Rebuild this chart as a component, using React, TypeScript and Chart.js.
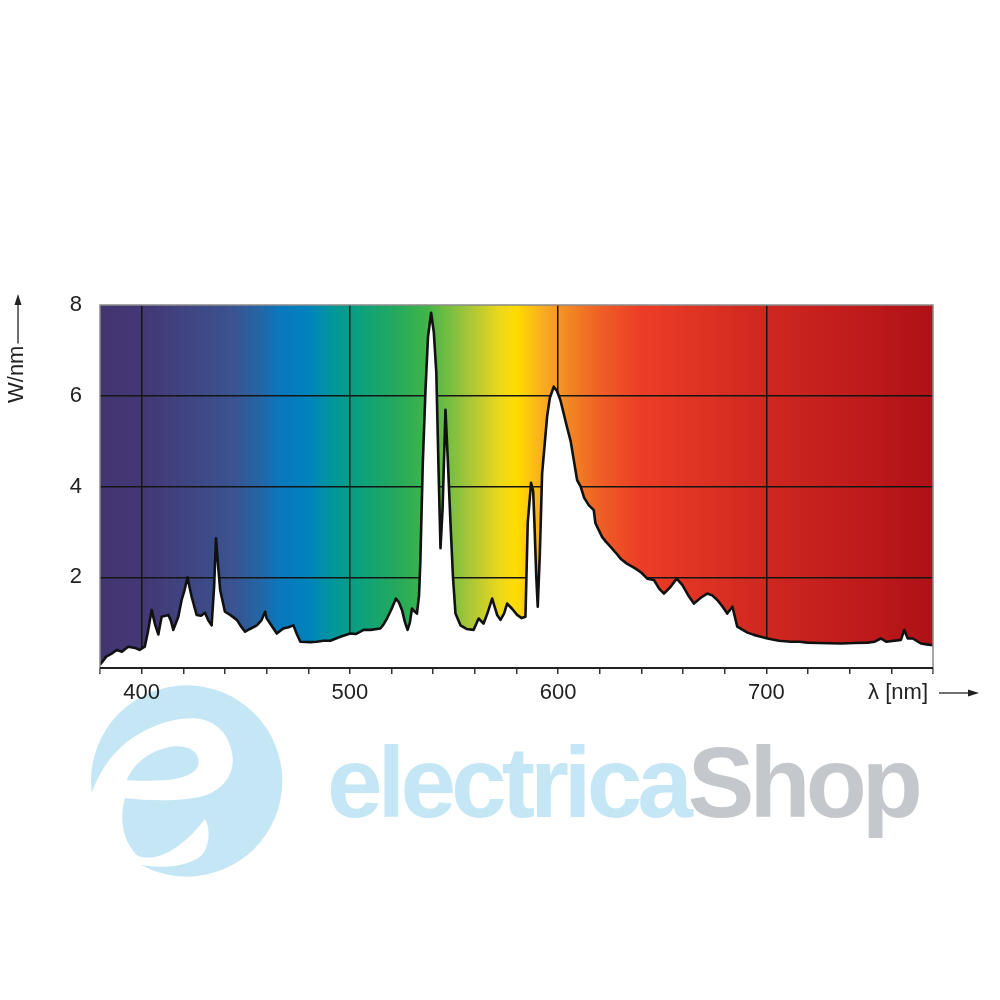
import React, { useEffect, useRef } from "react";
import { Chart, registerables } from "chart.js";
Chart.register(...registerables);

// ---------- data ----------
const wavelengths = [
  380, 383, 386, 388, 390.5, 393.5, 397, 399, 401.5, 403, 404.8, 406.5, 408, 409.6, 412.8, 414, 415.2, 417.6, 419.2,
  420.5, 422, 424, 426.4, 428.5, 430.4, 432, 433.6, 434.8, 435.7, 436.8, 437.7, 440, 442.5, 445.7, 448, 449.7, 452,
  455.3, 457.5, 459.3, 460, 461.7, 464.9, 468, 470.5, 472.9, 474.5, 476.2, 481, 484, 487.3, 490.6, 495.4, 500.2, 503,
  506.6, 510, 514.6, 516, 517.8, 520, 522.1, 523.5, 525, 526.5, 527.7, 528.8, 529.8, 531, 532.2, 533.2, 533.8, 535,
  536.3, 537.5, 539, 540.3, 541.5, 542.5, 543.5, 544.5, 545.9, 547, 548.3, 549.5, 550.7, 553.1, 556, 559.4, 561.8,
  564.2, 566, 568.3, 570.7, 572.3, 574, 575.5, 578, 580.3, 582.5, 584.3, 585.4, 587, 588, 588.6, 589.5, 590.2, 591.2,
  592.3, 594.7, 596, 597.9, 599.5, 601.1, 604.3, 606, 609.1, 610.8, 612.5, 614.7, 617.1, 617.9, 621.1, 623, 625.2,
  627.5, 630, 633, 637.2, 640, 642.8, 646, 648.5, 650.8, 654, 656.9, 659.6, 662.5, 665.2, 668.5, 671.6, 674, 676.4,
  679, 681.2, 683.7, 686, 690.9, 694, 697.3, 700.5, 706, 711.7, 716, 719.7, 725, 735.8, 742, 748.6, 752, 755, 757.5,
  764.6, 766.2, 767.9, 770.3, 774.2, 777, 780,
];
const power = [
  0.07, 0.25, 0.33, 0.4, 0.36, 0.47, 0.44, 0.4, 0.47, 0.8, 1.28, 0.95, 0.74, 1.13, 1.17, 1.05, 0.84, 1.13, 1.5,
  1.7, 2.0, 1.57, 1.17, 1.15, 1.22, 1.05, 0.94, 1.8, 2.86, 2.2, 1.72, 1.24, 1.17, 1.06, 0.9, 0.8, 0.86,
  0.94, 1.05, 1.24, 1.1, 0.98, 0.76, 0.87, 0.9, 0.94, 0.75, 0.58, 0.57, 0.58, 0.6, 0.6, 0.69, 0.76, 0.75,
  0.84, 0.84, 0.87, 0.95, 1.09, 1.3, 1.53, 1.45, 1.28, 1.0, 0.84, 1.0, 1.31, 1.25, 1.2, 1.6, 2.3, 4.5,
  6.13, 7.3, 7.83, 7.4, 6.5, 4.5, 2.64, 3.5, 5.69, 4.6, 3.19, 2.0, 1.2, 0.94, 0.86, 0.84, 1.09,
  0.98, 1.2, 1.53, 1.17, 1.06, 1.2, 1.42, 1.3, 1.17, 1.1, 1.13, 3.2, 4.08, 3.9, 3.2, 2.0, 1.35, 2.5,
  4.29, 5.54, 5.95, 6.2, 6.1, 5.9, 5.3, 5.0, 4.14, 4.0, 3.75, 3.59, 3.48, 3.19, 2.89, 2.78, 2.67,
  2.55, 2.41, 2.3, 2.19, 2.1, 1.97, 1.94, 1.75, 1.64, 1.79, 1.97, 1.83, 1.6, 1.42, 1.55, 1.64, 1.6, 1.5,
  1.35, 1.2, 1.35, 0.91, 0.78, 0.73, 0.69, 0.65, 0.6, 0.58, 0.58, 0.56, 0.55, 0.54, 0.55, 0.56, 0.58, 0.65, 0.58,
  0.62, 0.84, 0.65, 0.65, 0.54, 0.52, 0.5,
];
const xTickLabels = [400, 500, 600, 700];
const yTickLabels = [2, 4, 6, 8];
const yGridValues = [2, 4, 6];
const yTitle = "W/nm";
const xTitle = "λ [nm]";
const watermarkBlue = "electrica";
const watermarkGray = "Shop";

// ---------- style ----------
const FONT = "'Liberation Sans', Arial, Helvetica, sans-serif";
const spectrumStops: [number, string][] = [
  [0, "#433570"],
  [0.05, "#443774"],
  [0.16, "#3a5390"],
  [0.19, "#2565a3"],
  [0.215, "#0a77bd"],
  [0.25, "#0083bc"],
  [0.28, "#02979a"],
  [0.31, "#0ba07e"],
  [0.36, "#27aa5a"],
  [0.39, "#3fb44a"],
  [0.44, "#a0c53a"],
  [0.48, "#ecd81a"],
  [0.5, "#ffdc00"],
  [0.535, "#f8a823"],
  [0.56, "#f38a24"],
  [0.6, "#ef5f25"],
  [0.65, "#ec3d26"],
  [0.78, "#d22a21"],
  [0.9, "#c11c1c"],
  [1, "#ae1117"],
];

const spectrumBackground = {
  id: "spectrumBackground",
  beforeDraw(chart: any) {
    const { ctx, chartArea } = chart;
    const { left, top, right, bottom } = chartArea;
    const g = ctx.createLinearGradient(left, 0, right, 0);
    spectrumStops.forEach(([p, c]) => g.addColorStop(p, c));
    ctx.save();
    ctx.fillStyle = g;
    ctx.fillRect(left, top, right - left, bottom - top);
    ctx.restore();
  },
};

const frameAndTitles = {
  id: "frameAndTitles",
  afterDraw(chart: any) {
    const { ctx, chartArea } = chart;
    const { left, top, right, bottom } = chartArea;
    ctx.save();
    // frame
    ctx.strokeStyle = "#8a8a8a";
    ctx.lineWidth = 1.5;
    ctx.beginPath();
    ctx.moveTo(left, bottom + 5);
    ctx.lineTo(left, top);
    ctx.lineTo(right, top);
    ctx.lineTo(right, bottom + 5);
    ctx.stroke();
    ctx.strokeStyle = "#222";
    ctx.lineWidth = 2;
    ctx.beginPath();
    ctx.moveTo(left, bottom);
    ctx.lineTo(right, bottom);
    ctx.stroke();

    // y title
    ctx.fillStyle = "#222";
    ctx.strokeStyle = "#222";
    ctx.font = `22px ${FONT}`;
    const yw = ctx.measureText(yTitle).width;
    ctx.save();
    ctx.translate(23, 403);
    ctx.rotate(-Math.PI / 2);
    ctx.textAlign = "left";
    ctx.textBaseline = "alphabetic";
    ctx.fillText(yTitle, 0, 0);
    ctx.restore();
    ctx.lineWidth = 1.3;
    ctx.beginPath();
    ctx.moveTo(18, 403 - yw - 2);
    ctx.lineTo(18, 302);
    ctx.stroke();
    ctx.beginPath();
    ctx.moveTo(18, 294);
    ctx.lineTo(14.5, 305);
    ctx.lineTo(21.5, 305);
    ctx.closePath();
    ctx.fill();

    // x title
    ctx.textAlign = "right";
    ctx.textBaseline = "middle";
    ctx.fillText(xTitle, 928, 693);
    ctx.beginPath();
    ctx.moveTo(939, 693);
    ctx.lineTo(970, 693);
    ctx.stroke();
    ctx.beginPath();
    ctx.moveTo(979, 693);
    ctx.lineTo(968, 689.5);
    ctx.lineTo(968, 696.5);
    ctx.closePath();
    ctx.fill();
    ctx.restore();
  },
};

export default function App() {
  const canvasRef = useRef<HTMLCanvasElement | null>(null);

  useEffect(() => {
    if (!canvasRef.current) return;
    const chart = new Chart(canvasRef.current, {
      type: "line",
      data: {
        datasets: [
          {
            data: wavelengths.map((x, i) => ({ x, y: power[i] })),
            borderColor: "#111",
            borderWidth: 2.6,
            backgroundColor: "#ffffff",
            fill: "origin",
            pointRadius: 0,
            tension: 0,
            borderJoinStyle: "round",
          },
        ],
      },
      options: {
        responsive: false,
        animation: false,
        layout: { padding: { top: 305, right: 67, left: 0, bottom: 0 } },
        plugins: { legend: { display: false }, tooltip: { enabled: false } },
        scales: {
          x: {
            type: "linear",
            min: 380,
            max: 780,
            afterFit: (s: any) => {
              s.height = 332;
            },
            border: { display: false },
            grid: {
              color: (c: any) => (c.tick && xTickLabels.includes(c.tick.value) ? "#151515" : "rgba(0,0,0,0)"),
              lineWidth: 1.5,
              drawTicks: true,
              tickLength: 6,
              tickColor: "#333",
              tickWidth: 1.5,
            },
            ticks: {
              stepSize: 20,
              autoSkip: false,
              maxRotation: 0,
              padding: 6,
              color: "#222",
              font: { size: 22, family: FONT },
              callback: (v: any) => (xTickLabels.includes(Number(v)) ? String(v) : ""),
            },
          },
          y: {
            min: 0,
            max: 8,
            afterFit: (s: any) => {
              s.width = 100;
            },
            border: { display: false },
            grid: {
              color: (c: any) => (c.tick && yGridValues.includes(c.tick.value) ? "#151515" : "rgba(0,0,0,0)"),
              lineWidth: 1.5,
              drawTicks: false,
            },
            ticks: {
              stepSize: 2,
              padding: 18,
              color: "#222",
              font: { size: 22, family: FONT },
              callback: (v: any) => (yTickLabels.includes(Number(v)) ? String(v) : ""),
            },
          },
        },
      },
      plugins: [spectrumBackground, frameAndTitles],
    });
    return () => chart.destroy();
  }, []);

  return (
    <div style={{ position: "absolute", left: 0, top: 0, width: 1000, height: 1000, background: "#fff", overflow: "hidden" }}>
      <svg width={1000} height={1000} style={{ position: "absolute", left: 0, top: 0, zIndex: 0 }}>
        <g transform="translate(80 675) scale(0.3333)">
          <circle cx={320} cy={318} r={287} fill="#c5e7f5" />
          <path
            d="M 0 360 L 35 355 C 60 280 110 215 180 175 C 240 140 300 128 345 130 C 410 135 450 180 458 245 C 462 300 430 340 380 360 C 320 380 220 378 135 370 C 120 420 122 490 170 540 C 220 565 300 530 375 432 C 392 460 390 520 360 545 C 320 575 230 585 160 565 L 0 600 Z"
            fill="#ffffff"
          />
          <path
            d="M 140 316 C 160 265 210 225 275 215 C 320 210 352 225 356 258 C 358 290 320 308 270 314 C 220 318 170 318 140 316 Z"
            fill="#c5e7f5"
          />
        </g>
        <text x={327} y={817} fontFamily={FONT} fontWeight="bold" fontSize={100} letterSpacing={-5}>
          <tspan fill="#c5e7f5">{watermarkBlue}</tspan>
          <tspan fill="#c4c7cb">{watermarkGray}</tspan>
        </text>
      </svg>
      <canvas
        ref={canvasRef}
        width={1000}
        height={1000}
        style={{ position: "absolute", left: 0, top: 0, zIndex: 1, display: "block" }}
      />
    </div>
  );
}
